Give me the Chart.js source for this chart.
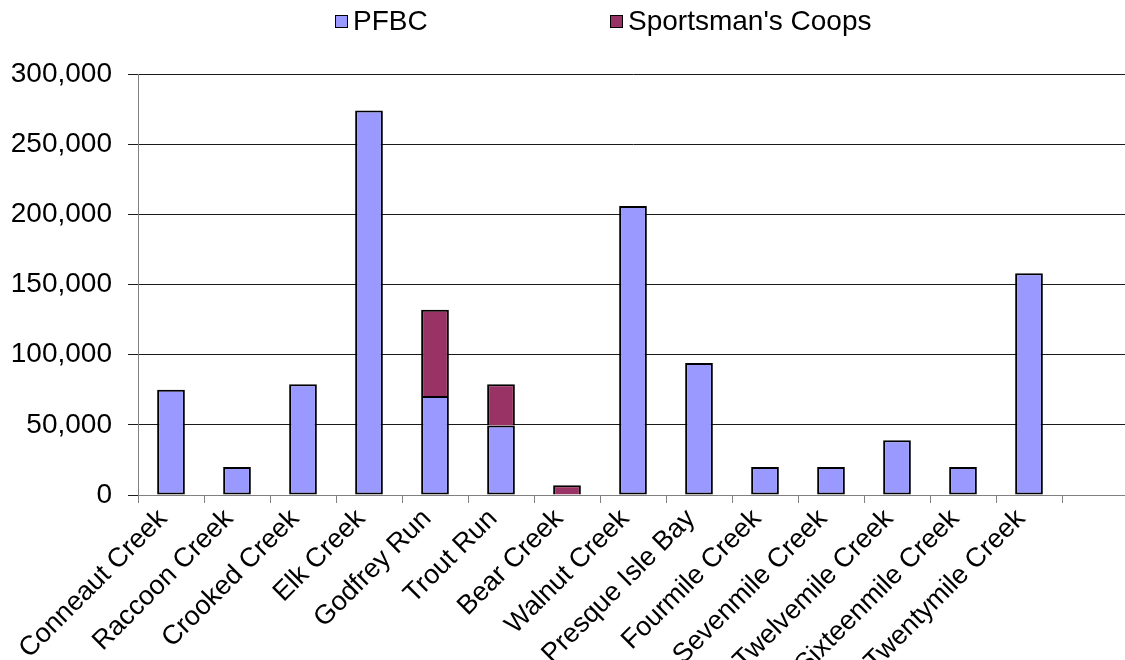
<!DOCTYPE html>
<html>
<head>
<meta charset="utf-8">
<title>Stocking by stream</title>
<script src="https://cdn.jsdelivr.net/npm/chart.js@4.4.0/dist/chart.umd.min.js"></script>
<style>
  html, body { margin: 0; padding: 0; background: #fff; overflow: hidden; }
  #wrap { position: relative; width: 1125px; height: 660px; overflow: hidden; }
  #box { position: absolute; left: 0; top: 0; width: 1135px; height: 660px; }
  #legend { position: absolute; left: 0; top: 0; width: 1125px; height: 44px; }
  .item { position: absolute; top: 5px; display: flex; align-items: center;
          font: 28px "Liberation Sans", Arial, sans-serif; color: #000; white-space: nowrap; }
  .swatch { width: 11px; height: 11px; border: 1.5px solid #000; margin-right: 5px; }
</style>
</head>
<body>
<div id="wrap">
  <div id="box"><canvas id="chart" width="1135" height="660"></canvas></div>
  <div id="legend"></div>
</div>
<script>
// streams (last slot is left empty on the axis)
const categories = ['Conneaut Creek', 'Raccoon Creek', 'Crooked Creek', 'Elk Creek', 'Godfrey Run',
  'Trout Run', 'Bear Creek', 'Walnut Creek', 'Presque Isle Bay', 'Fourmile Creek',
  'Sevenmile Creek', 'Twelvemile Creek', 'Sixteenmile Creek', 'Twentymile Creek', ''];

const pfbc  = [75000, 20000, 79000, 274000, 70500, 49500, 0, 206000, 94000, 20000, 20000, 39000, 20000, 158000, null];
const coops = [null, null, null, null, 61500, 29500, 7000, null, null, null, null, null, null, null, null];

const seriesNames = ['PFBC', "Sportsman's Coops"];
const seriesColors = ['#9999FF', '#993366'];

const yMin = 0, yMax = 300000, yStep = 50000;

const FAMILY = '"Liberation Sans", Arial, sans-serif';

const ctx = document.getElementById('chart');
const chart = new Chart(ctx, {
  type: 'bar',
  data: {
    labels: categories,
    datasets: [pfbc, coops].map((vals, i) => ({
      label: seriesNames[i],
      data: vals,
      backgroundColor: seriesColors[i],
      borderColor: '#000',
      borderWidth: 2,
      // upper segment sits on the lower one's top edge, so skip its bottom border
      borderSkipped: i === 0 ? false : 'start',
      categoryPercentage: 1,
      barPercentage: 0.42
    }))
  },
  options: {
    responsive: false,
    animation: false,
    devicePixelRatio: 1,
    layout: { padding: { top: 74, right: 7, bottom: 0, left: 0 } },
    plugins: {
      legend: { display: false },
      tooltip: { enabled: false }
    },
    scales: {
      x: {
        stacked: true,
        offset: true,
        grid: { display: true, offset: true, drawOnChartArea: false, drawTicks: true, tickLength: 8, color: '#808080' },
        border: { display: true, color: '#808080', width: 1 },
        ticks: { autoSkip: false, maxRotation: 45, minRotation: 45, color: '#000',
                 font: { family: FAMILY, size: 27 }, padding: 0, labelOffset: -8 },
        afterFit: function(scale) { scale.height = 165; }
      },
      y: {
        stacked: true,
        min: yMin,
        max: yMax,
        ticks: { stepSize: yStep, color: '#000', font: { family: FAMILY, size: 28 }, padding: 16 },
        grid: { color: '#1a1a1a', tickLength: 10, lineWidth: 1 },
        border: { display: true, color: '#808080', width: 1 },
        afterFit: function(scale) { scale.width = 138; }
      }
    }
  }
});

// legend row built from the datasets
const legendX = [335, 610];
const legendEl = document.getElementById('legend');
chart.data.datasets.forEach(function(ds, i) {
  const item = document.createElement('div');
  item.className = 'item';
  item.style.left = legendX[i] + 'px';
  const sw = document.createElement('span');
  sw.className = 'swatch';
  sw.style.background = ds.backgroundColor;
  const txt = document.createElement('span');
  txt.textContent = ds.label;
  item.appendChild(sw);
  item.appendChild(txt);
  legendEl.appendChild(item);
});
</script>
</body>
</html>
